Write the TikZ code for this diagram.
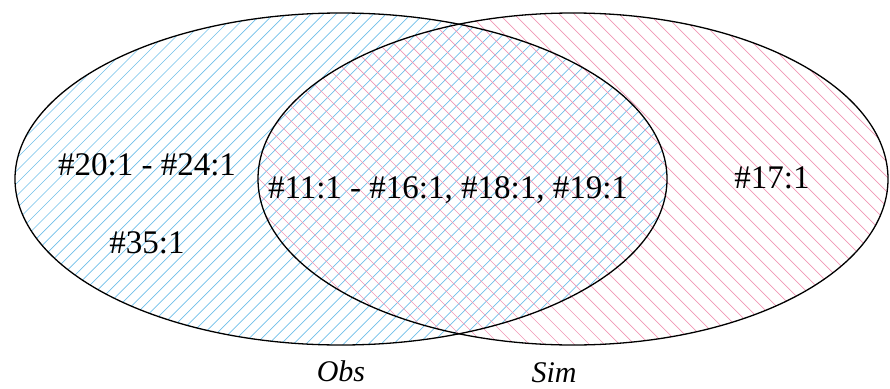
\documentclass[tikz,border=0pt]{standalone}
\usepackage{fontspec}
\setmainfont{Liberation Serif}
\usetikzlibrary{positioning}
\definecolor{obsblue}{RGB}{110,190,232}
\definecolor{simpink}{RGB}{240,150,180}
\tikzset{every picture/.style={line width=0.75pt}}

\begin{document}
\begin{tikzpicture}[x=1pt, y=-1pt,
    hatch/.style={line width=0.7pt},
    rim/.style={black, line width=1.3pt},
    count/.style={font=\fontsize{33}{36}\selectfont, inner sep=0pt},
    setname/.style={font=\fontsize{30}{34}\selectfont\itshape, inner sep=0pt}]
    \useasboundingbox (0,0) rectangle (890,388);

    % Obs 集合的蓝色斜线
    \begin{scope}
        \clip (341,179) ellipse (326 and 166);
        \foreach \i in {-400,-387.5,...,900}
            \draw[hatch, obsblue] (\i,400) -- ++(400,-400);
    \end{scope}

    % Sim 集合的粉色斜线
    \begin{scope}
        \clip (573,179) ellipse (315 and 166);
        \foreach \i in {-400,-385,...,900}
            \draw[hatch, simpink] (\i,0) -- ++(400,400);
    \end{scope}

    % 两个椭圆的边界
    \draw[rim] (341,179) ellipse (326 and 166);
    \draw[rim] (573,179) ellipse (315 and 166);

    % 各区域的编号
    \node[count] (obsonly) at (147,165) {\#20:1 - \#24:1};
    \node[count, below=55pt of obsonly] (obsextra) {\#35:1};
    \node[count] (both) at (448,190) {\#11:1 - \#16:1, \#18:1, \#19:1};
    \node[count] (simonly) at (772,178) {\#17:1};

    % 集合名称
    \node[setname] (obs) at (341,371) {Obs};
    \node[setname] (sim) at (554,373) {Sim};
\end{tikzpicture}
\end{document}
